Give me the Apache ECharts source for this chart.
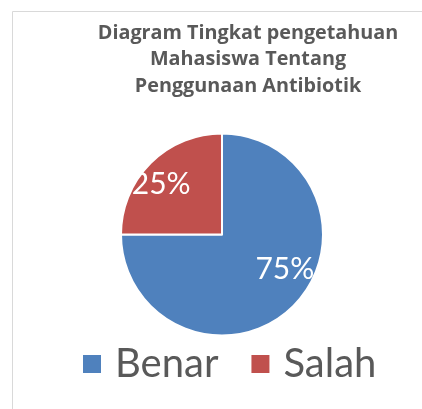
<!DOCTYPE html>
<html><head><meta charset="utf-8">
<script src="https://cdn.jsdelivr.net/npm/echarts@6/dist/echarts.min.js"></script>
<style>html,body{margin:0;padding:0;background:#fff}#c{width:422px;height:409px}</style>
</head><body><div id="c"></div>
<script>
const titleText = 'Diagram Tingkat pengetahuan\nMahasiswa Tentang\nPenggunaan Antibiotik';
const categories = ['Benar', 'Salah'];
const values = [75, 25];
const colors = ['#4F81BD', '#C0504D'];
const labelOffsets = [[25, -3], [-23, -12]];
const FONT = 'Lato';

const chart = echarts.init(document.getElementById('c'), null, {renderer: 'canvas'});
chart.setOption({
  animation: false,
  graphic: [{type: 'rect', shape: {x: 12.5, y: 11.5, width: 420, height: 410}, style: {fill: 'none', stroke: '#d9d9d9', lineWidth: 1}, z: -1}],
  title: {
    text: titleText, left: 243, top: 15, textAlign: 'center',
    textStyle: {fontFamily: 'Open Sans', fontWeight: 'bold', fontSize: 19.8, lineHeight: 26.5, color: '#595959'}
  },
  legend: {
    data: categories, bottom: 20, left: 76, itemWidth: 20, itemHeight: 20, itemGap: 31,
    icon: 'rect',
    textStyle: {fontFamily: FONT, fontSize: 40, color: '#595959', padding: [0, 0, 0, 8]}
  },
  series: [{
    type: 'pie', center: [222, 234.5], radius: [0, 101], startAngle: 90, clockwise: true,
    itemStyle: {borderColor: '#fff', borderWidth: 2},
    label: {position: 'inside', formatter: '{d}%', color: '#fff', fontFamily: FONT, fontSize: 30},
    labelLine: {show: false},
    emphasis: {disabled: true},
    data: categories.map((n, i) => ({name: n, value: values[i], itemStyle: {color: colors[i]}, label: {offset: labelOffsets[i]}}))
  }]
});
</script></body></html>
